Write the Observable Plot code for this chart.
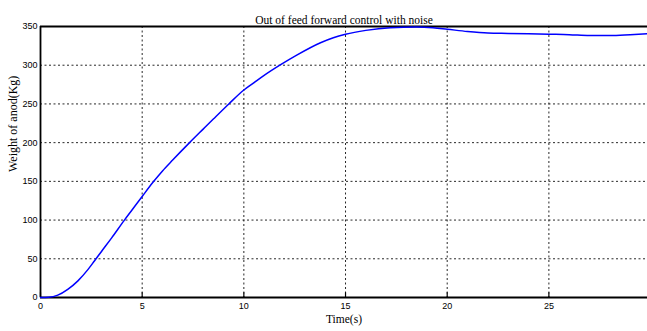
<!DOCTYPE html>
<html><head><meta charset="utf-8">
<script src="https://cdn.jsdelivr.net/npm/d3@7"></script>
<script src="https://cdn.jsdelivr.net/npm/@observablehq/plot@0.6"></script>
<style>
body{margin:0;background:#fff;}
#chart svg{display:block;}
</style>
</head><body><div id="chart"></div>
<script>
const title = "Out of feed forward control with noise";
const xLabel = "Time(s)";
const yLabel = "Weight of anod(Kg)";
const xTicks = [0, 5, 10, 15, 20, 25];
const yTicks = [0, 50, 100, 150, 200, 250, 300, 350];
const time = [0,0.4,0.85,1.34,1.84,2.33,2.66,3.0,3.5,4.1,4.5,5.0,5.52,6.0,6.5,7.33,8.0,8.5,9.26,10,10.5,10.98,11.77,12.6,13.77,14.4,15,16,17.2,18.5,19.3,20,21,22,23,24,25,26,27,28,29,29.85];
const weight = [0,0.3,3,10.5,21.5,36,47.5,59.5,77,99,113,130.5,148.5,163.5,177.5,200,217.5,230.5,250,268,277.5,286.5,300,313,329,335.5,340,345,348.5,349.5,348.5,346.5,343.5,341.5,341,340.5,340,339.5,338.5,338.5,339.5,340.6];

const data = time.map((t, i) => ({t, w: weight[i]}));

const chart = Plot.plot({
  width: 647,
  height: 331,
  marginLeft: 40,
  marginRight: 0,
  marginTop: 26,
  marginBottom: 34,
  style: {fontFamily: "'Liberation Sans', Arial, sans-serif", fontSize: "9px", color: "#000", background: "#fff"},
  x: {domain: [0, 29.85], ticks: xTicks, tickSize: 0, tickPadding: 5, label: null},
  y: {domain: [0, 350], ticks: yTicks, tickSize: 0, tickPadding: 3, label: null},
  marks: [
    Plot.gridX(xTicks.slice(1), {stroke: "#000", strokeOpacity: 0.85, strokeDasharray: "2,2.5"}),
    Plot.gridY(yTicks.slice(1, -1), {stroke: "#000", strokeOpacity: 0.85, strokeDasharray: "2,2.5"}),
    Plot.ruleX(xTicks, {x: d => d, y1: 0, y2: 6, stroke: "#000", strokeWidth: 1.2}),
    Plot.ruleY([0, 350], {stroke: "#000", strokeWidth: 1.8}),
    Plot.ruleX([0], {stroke: "#000", strokeWidth: 1.8}),
    Plot.line(data, {x: "t", y: "w", stroke: "#0000ff", strokeWidth: 1.5, curve: "monotone-x"}),
    Plot.text([title], {frameAnchor: "top", dy: -11, fontFamily: "'Liberation Serif', 'Times New Roman', serif", fontSize: 11.5}),
    Plot.text([xLabel], {frameAnchor: "bottom", dy: 25, fontFamily: "'Liberation Serif', 'Times New Roman', serif", fontSize: 11.5}),
    Plot.text([yLabel], {frameAnchor: "left", dx: -27, dy: 10, rotate: -90, fontFamily: "'Liberation Serif', 'Times New Roman', serif", fontSize: 12, letterSpacing: "0.8px"})
  ]
});
document.getElementById("chart").append(chart);
</script>
</body></html>
